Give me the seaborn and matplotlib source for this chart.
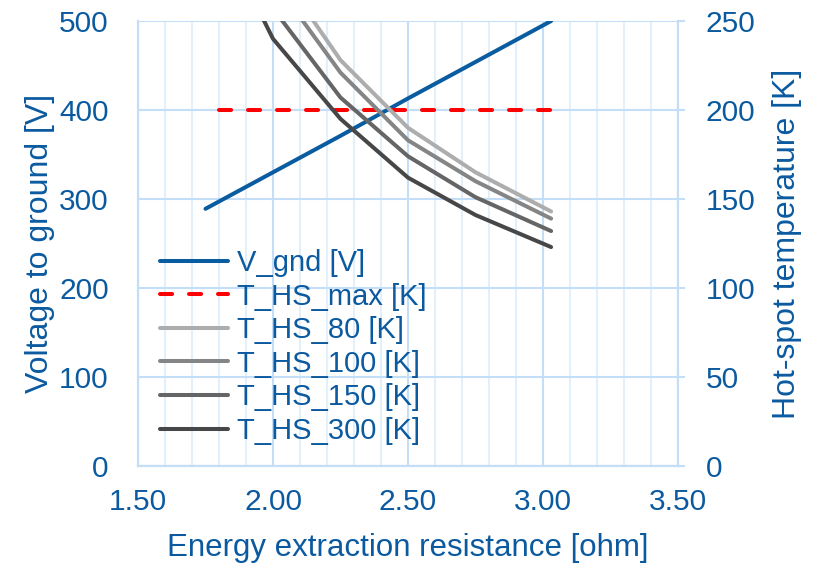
import matplotlib
matplotlib.use("Agg")
import matplotlib.pyplot as plt
import seaborn as sns
import pandas as pd
from matplotlib.ticker import MultipleLocator

# Energy extraction resistance [ohm]
resistance = [1.75, 2.00, 2.25, 2.50, 2.75, 3.03]
# Voltage to ground [V]
v_gnd = [289, 330, 371, 413, 454, 500]
# Hot-spot temperature limit [K]
r_max = [1.80, 3.03]
t_hs_max = [200, 200]
# Hot-spot temperatures [K] for the different cases
t_hs_80 = [370, 283, 228, 190, 165, 143]
t_hs_100 = [355, 273, 221, 183, 160, 139]
t_hs_150 = [335, 257, 207, 174, 151, 132]
t_hs_300 = [316, 240, 195, 162, 141, 123]

x_ticks = [1.50, 2.00, 2.50, 3.00, 3.50]

TEXT = "#0B5AA0"
BLUE = "#0A5CA0"
GRID_MAJOR = "#C3DEF6"
GRID_MINOR = "#E3F0FC"

sns.set_theme(style="white")
plt.rcParams["font.family"] = ["Liberation Sans", "DejaVu Sans"]

fig = plt.figure(figsize=(8.19, 5.65), dpi=100)
ax = fig.add_axes([138 / 819, 99 / 565, 540 / 819, 445 / 565])
ax2 = ax.twinx()

df_v = pd.DataFrame({"R": resistance, "V": v_gnd})
sns.lineplot(data=df_v, x="R", y="V", ax=ax, color=BLUE, lw=2.9,
             solid_capstyle="round", label="V_gnd [V]", legend=False)

df_max = pd.DataFrame({"R": r_max, "T": t_hs_max})
sns.lineplot(data=df_max, x="R", y="T", ax=ax2, color="#FF0000", lw=2.9,
             dashes=False, label="T_HS_max [K]", legend=False)
ax2.lines[-1].set_linestyle((0, (3.0, 4.2)))
ax2.lines[-1].set_dash_capstyle("round")

series = [
    ("T_HS_80 [K]", t_hs_80, "#ADADAD"),
    ("T_HS_100 [K]", t_hs_100, "#858585"),
    ("T_HS_150 [K]", t_hs_150, "#656565"),
    ("T_HS_300 [K]", t_hs_300, "#474747"),
]
for name, vals, col in series:
    d = pd.DataFrame({"R": resistance, "T": vals})
    sns.lineplot(data=d, x="R", y="T", ax=ax2, color=col, lw=2.9,
                 solid_capstyle="round", label=name, legend=False)

ax.set_xlim(1.5, 3.5)
ax.set_ylim(0, 500)
ax2.set_ylim(0, 250)

ax.set_xticks(x_ticks)
ax.set_xticklabels([f"{t:.2f}" for t in x_ticks])
ax.xaxis.set_minor_locator(MultipleLocator(0.1))
ax.yaxis.set_major_locator(MultipleLocator(100))
ax2.yaxis.set_major_locator(MultipleLocator(50))

ax.grid(True, which="minor", axis="x", color=GRID_MINOR, lw=1.5)
ax.grid(True, which="major", axis="x", color=GRID_MAJOR, lw=1.5)
ax.grid(True, which="major", axis="y", color=GRID_MAJOR, lw=1.5)
ax2.grid(False)
ax.set_axisbelow(True)

for a in (ax, ax2):
    for s in a.spines.values():
        s.set_color(GRID_MAJOR)
        s.set_linewidth(1.5)
    a.spines["top"].set_visible(False)

ax.tick_params(axis="x", which="both", length=0, pad=16, labelsize=21.5, labelcolor=TEXT)
ax.tick_params(axis="y", length=0, pad=21, labelsize=21.5, labelcolor=TEXT)
ax2.tick_params(axis="y", length=5, width=1.5, color=GRID_MAJOR, pad=15,
                labelsize=21.5, labelcolor=TEXT, direction="out")

ax.set_xlabel("Energy extraction resistance [ohm]", fontsize=22.5, color=TEXT, labelpad=12)
ax.set_ylabel("Voltage to ground [V]", fontsize=23, color=TEXT, labelpad=3)
ax2.set_ylabel("Hot-spot temperature [K]", fontsize=23, color=TEXT, labelpad=12)

h1, l1 = ax.get_legend_handles_labels()
h2, l2 = ax2.get_legend_handles_labels()
leg = ax2.legend(h1 + h2, l1 + l2, loc="upper left",
                 bbox_to_anchor=(22 / 540, (466 - 249) / 445),
                 frameon=False, fontsize=21, labelcolor=TEXT,
                 handlelength=2.33, handletextpad=0.3, labelspacing=0.19,
                 borderpad=0, borderaxespad=0)

fig.savefig("out.png", dpi=100)
